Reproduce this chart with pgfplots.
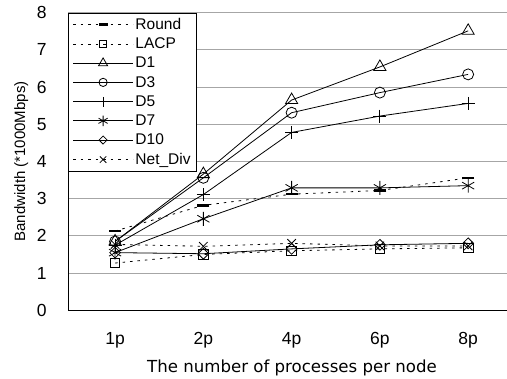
\documentclass[border=0pt]{standalone}
\usepackage{pgfplots}
\pgfplotsset{compat=1.18}
\usepackage{fontspec}
\setmainfont{Liberation Sans}
\newfontfamily\dejavu{DejaVu Sans}
\begin{document}
\begin{tikzpicture}[x=1pt,y=1pt]
\path[use as bounding box] (-68.3,-68) rectangle (438.7,310.3);
\begin{axis}[
  at={(0,0)}, anchor=south west, scale only axis,
  width=438.7pt, height=297.7pt,
  xmin=-0.53, xmax=4.44, ymin=0, ymax=8,
  axis x line=bottom, axis y line=left,
  axis line style={-, line width=0.9pt, black},
  xtick={0,1,2,3,4}, xticklabels={1p,2p,4p,6p,8p},
  major x tick style={draw=none},
  extra x ticks={0.5,1.5,2.5,3.5}, extra x tick labels={},
  extra x tick style={tick align=inside, major tick length=5pt, tick style={black, line width=0.8pt}},
  ytick={0,1,2,3,4,5,6,7,8}, major y tick style={draw=none},
  ymajorgrids, grid style={gray!70, line width=0.9pt},
  /pgf/number format/assume math mode=true,
  tick label style={font=\fontsize{17.5}{17.5}\selectfont},
  yticklabel style={anchor=east, xshift=-16pt},
  xticklabel style={font=\fontsize{17.5}{17.5}\selectfont, yshift=-16pt},
  ylabel={Bandwidth (*1000Mbps)},
  every axis y label/.style={at={(axis description cs:0,0.5)}, rotate=90, anchor=center, yshift=47pt, font=\fontsize{15}{15}\selectfont},
  xlabel={The number of processes per node},
  every axis x label/.style={at={(axis description cs:0.51,0)}, anchor=center, yshift=-58pt, font=\dejavu\fontsize{16.6}{16.6}\selectfont},
  legend style={at={(0,1)}, anchor=north west, draw=black, line width=0.8pt, fill=white,
    font=\fontsize{15.5}{17}\selectfont, row sep=3pt, inner xsep=4pt, inner ysep=3pt},
  legend cell align=left,
  legend image code/.code={\draw[mark repeat=2,mark phase=2, every mark/.append style={scale=0.75}] plot coordinates {(6pt,0pt)(36pt,0pt)(66pt,0pt)};},
  every axis plot/.append style={black, line width=0.8pt},
]
\addplot[dash pattern=on 2.5pt off 5pt, mark=-, mark size=6pt, mark options={solid, line width=2.6pt}]
  coordinates {(0,2.13)(1,2.82)(2,3.12)(3,3.22)(4,3.56)};
\addlegendentry{Round}
\addplot[dash pattern=on 2.5pt off 5pt, mark=square, mark size=4.8pt, mark options={solid}]
  coordinates {(0,1.27)(1,1.50)(2,1.60)(3,1.65)(4,1.68)};
\addlegendentry{LACP}
\addplot[solid, mark=triangle, mark size=7pt]
  coordinates {(0,1.85)(1,3.66)(2,5.65)(3,6.54)(4,7.51)};
\addlegendentry{D1}
\addplot[solid, mark=o, mark size=5.5pt]
  coordinates {(0,1.85)(1,3.56)(2,5.31)(3,5.85)(4,6.34)};
\addlegendentry{D3}
\addplot[solid, mark=+, mark size=6.5pt]
  coordinates {(0,1.75)(1,3.11)(2,4.78)(3,5.22)(4,5.56)};
\addlegendentry{D5}
\addplot[solid, mark=asterisk, mark size=7pt]
  coordinates {(0,1.55)(1,2.46)(2,3.29)(3,3.29)(4,3.35)};
\addlegendentry{D7}
\addplot[solid, mark=square, mark size=3.8pt, mark options={rotate=45}]
  coordinates {(0,1.55)(1,1.52)(2,1.65)(3,1.76)(4,1.80)};
\addlegendentry{D10}
\addplot[dash pattern=on 2.5pt off 5pt, mark=x, mark size=6pt, mark options={solid}]
  coordinates {(0,1.77)(1,1.72)(2,1.80)(3,1.73)(4,1.73)};
\addlegendentry{Net\_Div}
\end{axis}
\end{tikzpicture}
\end{document}
